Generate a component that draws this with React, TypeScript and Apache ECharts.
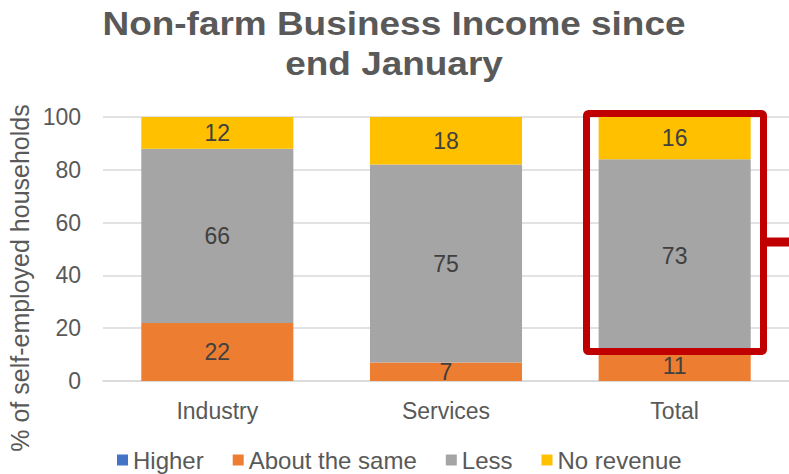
import React, { useEffect, useRef } from "react";
import * as echarts from "echarts";

const categories = ["Industry", "Services", "Total"];
const higher = [0, 0, 0];
const aboutSame = [22, 7, 11];
const less = [66, 75, 73];
const noRevenue = [12, 18, 16];
const yTicks = [0, 20, 40, 60, 80, 100];

const FONT = "'Liberation Sans', Arial, sans-serif";

export default function App() {
  const ref = useRef<HTMLDivElement>(null);
  useEffect(() => {
    if (!ref.current) return;
    const chart = echarts.init(ref.current, null, { renderer: "svg" });
    const label = {
      show: true,
      position: "inside",
      color: "#404040",
      fontSize: 23,
      fontFamily: FONT,
      formatter: (p: any) => (p.value === 0 ? "" : String(p.value)),
    };
    const mk = (name: string, data: number[], color: string) => ({
      name,
      type: "bar",
      stack: "s",
      data,
      barWidth: "66.5%",
      itemStyle: { color },
      label,
    });
    chart.setOption({
      animation: false,
      textStyle: { fontFamily: FONT },
      legend: {
        left: 112,
        top: 443,
        itemWidth: 11,
        itemHeight: 11,
        itemGap: 29,
        icon: "rect",
        textStyle: { fontFamily: FONT, fontSize: 24, color: "#595959" },
        data: ["Higher", "About the same", "Less", "No revenue"],
      },
      grid: { left: 103, right: 0, top: 117, bottom: 93 },
      xAxis: {
        type: "category",
        data: categories,
        axisLine: { show: true, lineStyle: { color: "#D9D9D9", width: 1.5 } },
        axisTick: { show: false },
        axisLabel: { color: "#595959", fontSize: 23, fontFamily: FONT, margin: 18 },
      },
      yAxis: {
        type: "value",
        min: yTicks[0],
        max: yTicks[yTicks.length - 1],
        interval: 20,
        axisLine: { show: false },
        axisTick: { show: false },
        splitLine: { lineStyle: { color: "#D9D9D9", width: 1.5 } },
        axisLabel: { color: "#595959", fontSize: 23, fontFamily: FONT, margin: 22 },
      },
      graphic: [
        {
          type: "text",
          x: 394,
          y: 43,
          scaleX: 1.12,
          style: {
            text: "Non-farm Business Income since\nend January",
            fill: "#595959",
            fontSize: 33,
            fontWeight: "bold",
            fontFamily: FONT,
            lineHeight: 40,
            align: "center",
            verticalAlign: "middle",
          },
        },
        {
          type: "text",
          x: 20,
          y: 278,
          rotation: Math.PI / 2,
          style: {
            text: "% of self-employed households",
            fill: "#595959",
            fontSize: 25,
            fontFamily: FONT,
            align: "center",
            verticalAlign: "middle",
          },
        },
        {
          type: "rect",
          shape: { x: 586.5, y: 113.5, width: 177, height: 238, r: 2 },
          style: { fill: "none", stroke: "#C00000", lineWidth: 7 },
          z: 100,
        },
        {
          type: "line",
          shape: { x1: 767, y1: 242, x2: 789, y2: 242 },
          style: { stroke: "#C00000", lineWidth: 9 },
          z: 100,
        },
      ],
      series: [
        mk("Higher", higher, "#4472C4"),
        mk("About the same", aboutSame, "#ED7D31"),
        mk("Less", less, "#A5A5A5"),
        mk("No revenue", noRevenue, "#FFC000"),
      ],
    });
    return () => chart.dispose();
  }, []);
  return <div ref={ref} style={{ width: 789, height: 474, position: "absolute", left: 0, top: 0 }} />;
}
